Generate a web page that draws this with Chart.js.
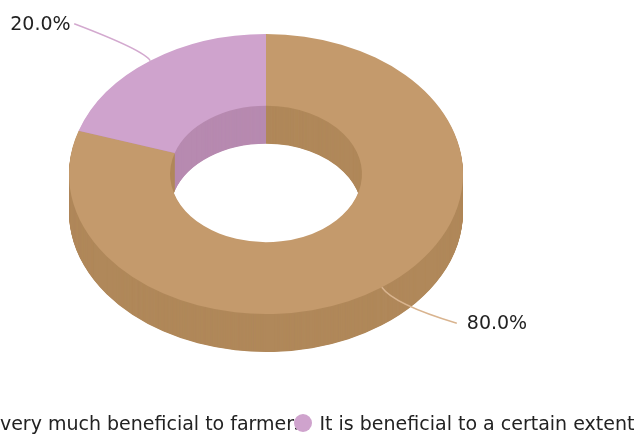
<!DOCTYPE html>
<html><head><meta charset="utf-8">
<style>html,body{margin:0;padding:0;background:#fff;overflow:hidden}canvas{display:block}</style>
<script src="https://cdn.jsdelivr.net/npm/chart.js@4/dist/chart.umd.min.js"></script>
</head><body><canvas id="c" width="637" height="435"></canvas>
<script>
const categories = ["It is very much beneficial to farmers", "It is beneficial to a certain extent"];
const values = [80, 20];
const topColors = ["#c49a6c", "#cfa3cd"];
const wallColors = ["#b0885a", "#b78ab0"];
const lineColors = ["#d9b48f", "#d3a9cf"];

const TILT = 140 / 197, DEPTH = 38, FONT = '19px "DejaVu Sans"', TEXT = "#222222";

function drawArc(ctx, arc, color) {
  const o = arc.options;
  arc.options = Object.assign({}, o, { backgroundColor: color, borderWidth: 0 });
  arc.draw(ctx);
  arc.options = o;
}
function project(chart, arc) {
  const m = (arc.startAngle + arc.endAngle) / 2;
  return { x: arc.x + Math.cos(m) * arc.outerRadius, y: arc.y + Math.sin(m) * arc.outerRadius * TILT };
}
const solid3d = {
  id: "solid3d",
  beforeDatasetDraw(chart, args) {
    const ctx = chart.ctx, arcs = args.meta.data;
    const cy = arcs[0].y;
    const layer = (dy, colors) => {
      ctx.save();
      ctx.translate(0, cy + dy);
      ctx.scale(1, TILT);
      ctx.translate(0, -cy);
      arcs.forEach((a, i) => drawArc(ctx, a, colors[i]));
      ctx.restore();
    };
    for (let d = DEPTH; d >= 1; d -= 0.5) layer(d, wallColors);
    layer(0, topColors);
    return false;
  },
  afterDraw(chart) {
    const ctx = chart.ctx, arcs = chart.getDatasetMeta(0).data;
    const total = values.reduce((a, b) => a + b, 0);
    ctx.save();
    ctx.font = FONT;
    ctx.textBaseline = "alphabetic";
    const brown = project(chart, arcs[0]), pink = project(chart, arcs[1]);
    ctx.lineWidth = 1.4;
    ctx.strokeStyle = lineColors[0];
    ctx.beginPath(); ctx.moveTo(brown.x, brown.y);
    ctx.quadraticCurveTo(brown.x + 12, brown.y + 17, brown.x + 75, brown.y + 36);
    ctx.stroke();
    ctx.strokeStyle = lineColors[1];
    ctx.beginPath(); ctx.moveTo(pink.x, pink.y);
    ctx.quadraticCurveTo(pink.x - 5, pink.y - 10, pink.x - 76, pink.y - 37);
    ctx.stroke();
    ctx.fillStyle = TEXT;
    ctx.fillText((values[0] / total * 100).toFixed(1) + "%", brown.x + 85, brown.y + 42);
    ctx.fillText((values[1] / total * 100).toFixed(1) + "%", pink.x - 140, pink.y - 31);
    const w0 = ctx.measureText(categories[0]).width;
    const items = [
      { tx: 304 - w0, mx: 304 - w0 - 17 },
      { tx: 319.5, mx: 303 }
    ];
    items.forEach((it, i) => {
      ctx.fillStyle = TEXT;
      ctx.fillText(categories[i], it.tx, 430);
    });
    items.forEach((it, i) => {
      ctx.fillStyle = topColors[i];
      ctx.beginPath(); ctx.arc(it.mx, 423, 9, 0, Math.PI * 2); ctx.fill();
    });
    ctx.restore();
  }
};
new Chart(document.getElementById("c"), {
  type: "doughnut",
  data: { labels: categories, datasets: [{ data: values, backgroundColor: topColors, borderWidth: 0 }] },
  options: {
    responsive: false,
    animation: false,
    radius: 197,
    cutout: "48.7%",
    layout: { padding: { left: 0, top: 0, right: 105, bottom: 87 } },
    plugins: { legend: { display: false }, tooltip: { enabled: false } }
  },
  plugins: [solid3d]
});
</script></body></html>
